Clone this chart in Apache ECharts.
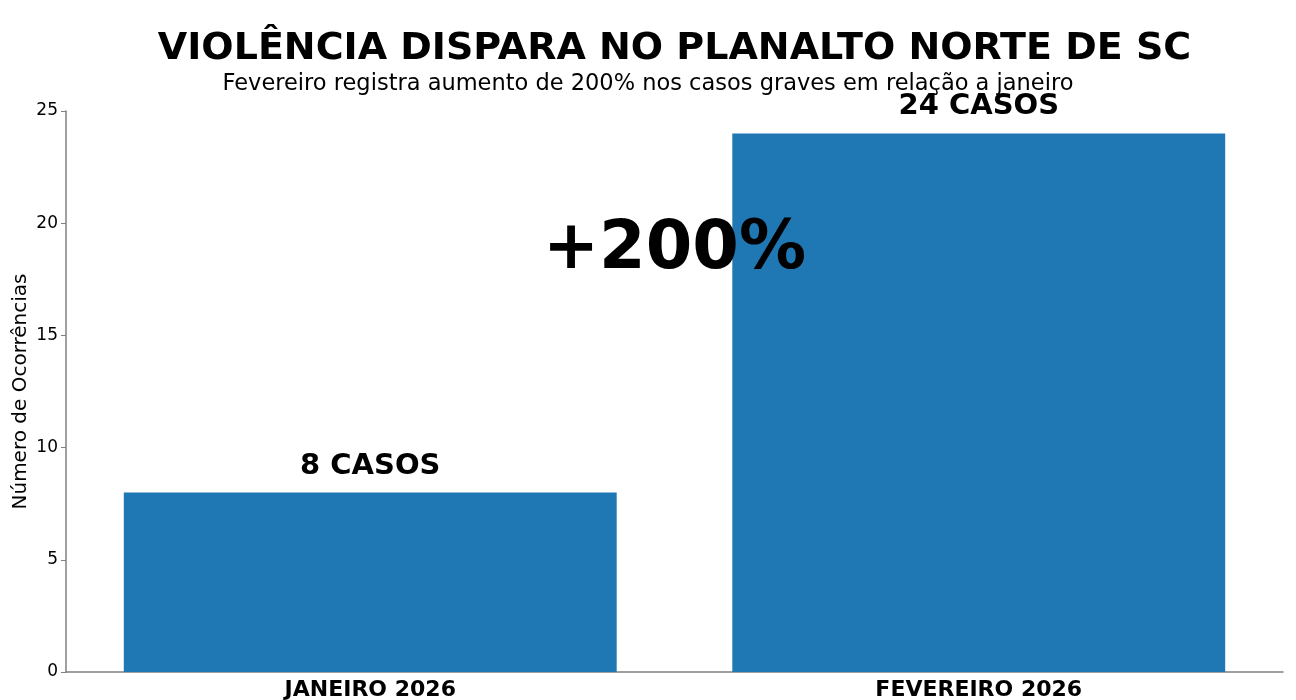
<!DOCTYPE html>
<html>
<head>
<meta charset="utf-8">
<script src="https://cdn.jsdelivr.net/npm/echarts@6/dist/echarts.min.js"></script>
<style>
  html, body { margin: 0; padding: 0; background: #fff; }
  #chart { width: 1296px; height: 700px; }
</style>
</head>
<body>
<div id="chart"></div>
<script>
var categories = ['JANEIRO 2026', 'FEVEREIRO 2026'];
var casos = [8, 24];
var caseLabels = ['8 CASOS', '24 CASOS'];
var yTicks = [0, 5, 10, 15, 20, 25];
var titleText = 'VIOLÊNCIA DISPARA NO PLANALTO NORTE DE SC';
var subtitleText = 'Fevereiro registra aumento de 200% nos casos graves em relação a janeiro';
var highlightText = '+200%';
var highlightAt = 18.8;   // valor no eixo y onde fica o "+200%"

var font = '"DejaVu Sans", sans-serif';
var axisGray = '#808080';

var chart = echarts.init(document.getElementById('chart'));

chart.setOption({
    animation: false,
    backgroundColor: '#ffffff',
    grid: { left: 66, right: 13, top: 111, bottom: 28, outerBoundsMode: 'none' },
    xAxis: {
        type: 'category',
        data: categories,
        axisLine: { lineStyle: { color: axisGray, width: 1.5 } },
        axisTick: { alignWithLabel: true, length: 5, lineStyle: { color: axisGray } },
        axisLabel: { color: '#000', fontFamily: font, fontWeight: 'bold', fontSize: 22, margin: 7 }
    },
    yAxis: {
        type: 'value',
        min: yTicks[0],
        max: yTicks[yTicks.length - 1],
        interval: 5,
        name: 'Número de Ocorrências',
        nameLocation: 'middle',
        nameGap: 35,
        nameMoveOverlap: false,
        nameTextStyle: { color: '#000', fontFamily: font, fontSize: 20 },
        splitLine: { show: false },
        axisLine: { show: true, lineStyle: { color: axisGray, width: 1.5 } },
        axisTick: { show: true, length: 5, lineStyle: { color: axisGray } },
        axisLabel: { color: '#000', fontFamily: font, fontSize: 17, margin: 8 }
    },
    series: [{
        type: 'bar',
        data: casos,
        barCategoryGap: '19%',
        itemStyle: { color: '#1f77b4' },
        label: {
            show: true,
            position: 'top',
            distance: 12,
            color: '#000',
            fontFamily: font,
            fontWeight: 'bold',
            fontSize: 29,
            formatter: function (p) { return caseLabels[p.dataIndex]; }
        }
    }]
});

// titulo, subtitulo e destaque
var gridLeft = 66, gridRight = 1296 - 13;
var hy = chart.convertToPixel({ yAxisIndex: 0 }, highlightAt);
chart.setOption({
    graphic: [
        {
            type: 'text', x: (gridLeft + gridRight) / 2, y: 49,
            style: { text: titleText, fill: '#000', font: 'bold 38px ' + font, textAlign: 'center', textVerticalAlign: 'middle' }
        },
        {
            type: 'text', x: 648, y: 84,
            style: { text: subtitleText, fill: '#000', font: '22.5px ' + font, textAlign: 'center', textVerticalAlign: 'middle' }
        },
        {
            type: 'text', x: (gridLeft + gridRight) / 2, y: hy, z: 100,
            style: { text: highlightText, fill: '#000', font: 'bold 67px ' + font, textAlign: 'center', textVerticalAlign: 'middle' }
        }
    ]
});
</script>
</body>
</html>
